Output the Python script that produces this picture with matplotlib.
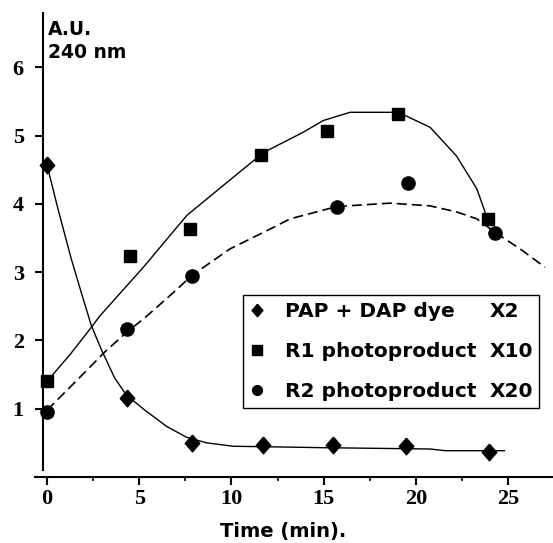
import matplotlib
matplotlib.use("Agg")
import matplotlib.pyplot as plt
from matplotlib.lines import Line2D
from matplotlib.patches import Rectangle
from matplotlib.ticker import MultipleLocator

# ── data ────────────────────────────────────────────────────────────────────
# measured points (time in min, absorbance in A.U.)
pap_t = [0, 4.35, 7.85, 11.7, 15.5, 19.45, 23.95]
pap_v = [4.57, 1.15, 0.50, 0.47, 0.47, 0.45, 0.36]
r1_t = [0, 4.5, 7.75, 11.6, 15.2, 19.05, 23.9]
r1_v = [1.40, 3.23, 3.63, 4.72, 5.06, 5.31, 3.78]
r2_t = [0, 4.32, 7.85, 15.7, 19.55, 24.3]
r2_v = [0.95, 2.17, 2.95, 3.96, 4.30, 3.58]

# fitted curves as drawn in the figure
pap_fit_t = [0, 0.6, 1.32, 1.86, 2.40, 2.94, 3.67, 4.30, 5.30, 6.49, 7.58,
             8.66, 10.09, 12.6, 14.8, 20.75, 21.6, 24.8]
pap_fit_v = [4.57, 3.92, 3.19, 2.70, 2.22, 1.87, 1.45, 1.20, 0.98, 0.74, 0.58,
             0.50, 0.45, 0.44, 0.43, 0.41, 0.385, 0.385]
r1_fit_t = [0, 1.27, 2.40, 2.87, 5.22, 7.58, 9.56, 11.6, 12.09, 13.18, 13.9,
            14.98, 16.43, 19.05, 20.77, 22.2, 23.3, 23.88]
r1_fit_v = [1.40, 1.80, 2.19, 2.36, 3.07, 3.83, 4.27, 4.72, 4.80, 4.95, 5.05,
            5.22, 5.34, 5.34, 5.12, 4.70, 4.22, 3.78]
r2_fit_t = [0, 0.23, 2.15, 3.13, 4.32, 5.3, 6.85, 7.85, 9.92, 12.09, 13.18,
            15.71, 18.6, 20.77, 22.22, 23.3, 24.3, 24.75, 25.7, 27.0]
r2_fit_v = [0.98, 1.04, 1.56, 1.83, 2.12, 2.33, 2.70, 2.95, 3.34, 3.63, 3.78,
            3.96, 4.01, 3.97, 3.88, 3.78, 3.58, 3.50, 3.33, 3.07]

legend_labels = ["PAP + DAP dye", "R1 photoproduct", "R2 photoproduct"]
legend_factors = ["X2", "X10", "X20"]

x_ticks = [0, 5, 10, 15, 20, 25]
y_ticks = [1, 2, 3, 4, 5, 6]

W, H = 553, 543

# slightly tall diamond like the one in the scanned figure
diamond = [(0, 1), (0.87, 0), (0, -1), (-0.87, 0), (0, 1)]
legend_markers = [diamond, "s", "o"]


def fx(px):
    return px / W


def fy(py):
    return 1 - py / H


fig = plt.figure(figsize=(W / 100, H / 100), dpi=100)
ax = fig.add_axes([fx(35), 66 / H, 518 / W, (477 - 12.6) / H])
ax.set_xlim(-0.65, 27.43)
ax.set_ylim(0, 6.8)

# curves
ax.plot(pap_fit_t, pap_fit_v, color="black", lw=1.0)
ax.plot(r1_fit_t, r1_fit_v, color="black", lw=1.0)
ax.plot(r2_fit_t, r2_fit_v, color="black", lw=1.2, dashes=[6, 3])

# markers
ax.plot(pap_t, pap_v, ls="none", marker=diamond, ms=12, color="black",
        clip_on=False)
ax.plot(r1_t, r1_v, ls="none", marker="s", ms=9, color="black",
        clip_on=False)
ax.plot(r2_t, r2_v, ls="none", marker="o", ms=9.5, color="black",
        clip_on=False)

# axes styling
for side in ("top", "right"):
    ax.spines[side].set_visible(False)
ax.spines["left"].set_position(("data", -0.2))
ax.spines["left"].set_bounds(0.1, 6.8)
ax.spines["left"].set_linewidth(1.5)
ax.spines["bottom"].set_linewidth(1.5)

tick_font = {"family": "Liberation Serif", "size": 16, "weight": "bold"}
ax.set_xticks(x_ticks)
ax.set_xticklabels([str(t) for t in x_ticks], fontdict=tick_font)
ax.xaxis.set_minor_locator(MultipleLocator(2.5))
ax.set_yticks(y_ticks)
ax.set_yticklabels([str(t) for t in y_ticks], fontdict=tick_font)
ax.tick_params(axis="x", which="major", direction="out", length=6, width=1.5,
               pad=2.5)
ax.tick_params(axis="x", which="minor", direction="out", length=3, width=1.2)
ax.tick_params(axis="y", which="major", direction="out", length=6, width=1.5,
               pad=8)

bold = {"family": "DejaVu Sans", "weight": "bold"}
fig.text(fx(283.3), fy(536.7), "Time (min).", ha="center", va="baseline",
         size=14, **bold)
fig.text(fx(48.3), fy(35), "A.U.", ha="left", va="baseline", size=13.5,
         **bold)
fig.text(fx(48.3), fy(58.3), "240 nm", ha="left", va="baseline", size=13.5,
         **bold)

# legend box drawn by hand so the factor column lines up
fig.add_artist(Rectangle((fx(242.7), fy(408)), (539 - 242.7) / W,
                         (408 - 295) / H, transform=fig.transFigure,
                         fill=False, lw=1.0, edgecolor="black"))
rows = [310, 350, 390]
for row, lab, fac, mk in zip(rows, legend_labels, legend_factors,
                             legend_markers):
    fig.add_artist(Line2D([fx(256.7)], [fy(row)], marker=mk,
                          ms=9 if mk is diamond else 7, color="black",
                          transform=fig.transFigure))
    fig.text(fx(285), fy(row + 7), lab, ha="left", va="baseline", size=14.5,
             **bold)
    fig.text(fx(490), fy(row + 7), fac, ha="left", va="baseline", size=14.5,
             **bold)

fig.savefig("out.png", dpi=100)
